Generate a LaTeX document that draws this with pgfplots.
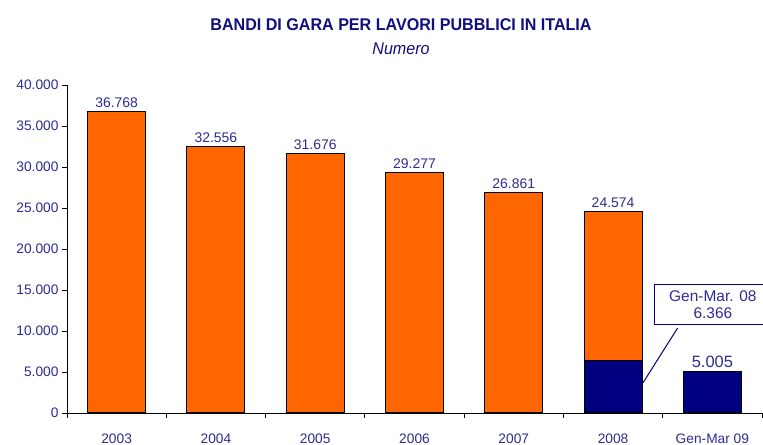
\documentclass[border=0pt]{standalone}
\usepackage{pgfplots}
\pgfplotsset{compat=1.18}
\usepackage{fontspec}
\setmainfont{Liberation Sans}
\newfontfamily\titlefont[FakeStretch=0.95]{Liberation Sans}
\definecolor{barorange}{RGB}{255,102,0}
\definecolor{barnavy}{RGB}{0,0,128}
\definecolor{txtblue}{RGB}{45,45,145}
\definecolor{titleblue}{RGB}{15,15,125}
\begin{document}
\begin{tikzpicture}[x=1bp,y=1bp]
\path[use as bounding box] (0,0) rectangle (763,445);
\begin{axis}[
  at={(67bp,32bp)}, anchor=south west,
  scale only axis, width=695bp, height=328bp,
  xmin=-0.5, xmax=6.5, ymin=0, ymax=40000,
  axis x line=bottom, axis y line=left,
  axis line style={-, black, line width=0.8bp},
  xtick={0,...,6},
  xticklabels={2003,2004,2005,2006,2007,2008,Gen-Mar 09},
  minor xtick={-0.5,0.5,...,6.5},
  major x tick style={draw=none},
  minor x tick style={black, line width=0.8bp},
  minor tick length=5bp,
  ytick={0,5000,...,40000},
  major tick length=5bp,
  tick align=outside,
  y tick style={black, line width=0.8bp},
  ticklabel style={font=\fontsize{13.8}{15}\selectfont, text=txtblue},
  xticklabel style={yshift=-12bp},
  /pgf/number format/.cd, fixed, precision=0, 1000 sep={.}, assume math mode=true,
  /pgfplots/.cd,
  scaled y ticks=false,
  clip=false,
  every node near coord/.append style={font=\fontsize{14}{16}\selectfont, text=txtblue},
]
\addplot[ybar, bar width=58bp, bar shift=0pt, fill=barorange, draw=black, line width=1bp,
  nodes near coords] coordinates {(0,36768) (1,32556) (2,31676) (3,29277) (4,26861) (5,24574)};
\addplot[ybar, bar width=58bp, bar shift=0pt, fill=barnavy, draw=black, line width=1bp]
  coordinates {(5,6366)};
\addplot[ybar, bar width=58bp, bar shift=0pt, fill=barnavy, draw=black, line width=1bp,
  nodes near coords, every node near coord/.append style={font=\fontsize{16.5}{18}\selectfont}]
  coordinates {(6,5005)};
\draw[barnavy, line width=1bp] (axis cs:5.3,3660) -- (axis cs:5.65,10366);
\node[draw=barnavy, line width=1bp, fill=white, text=txtblue, align=center,
  minimum width=116bp, minimum height=40bp, inner sep=1.5bp,
  font=\fontsize{15.5}{17}\selectfont] at (axis cs:6.005,13170) {Gen-Mar. 08\\6.366};
\end{axis}
\node[text=titleblue, font=\titlefont\bfseries\fontsize{17}{19}\selectfont] at (401,420) {BANDI DI GARA PER LAVORI PUBBLICI IN ITALIA};
\node[text=titleblue, font=\titlefont\itshape\fontsize{17}{19}\selectfont] at (401,396) {Numero};
\end{tikzpicture}
\end{document}
